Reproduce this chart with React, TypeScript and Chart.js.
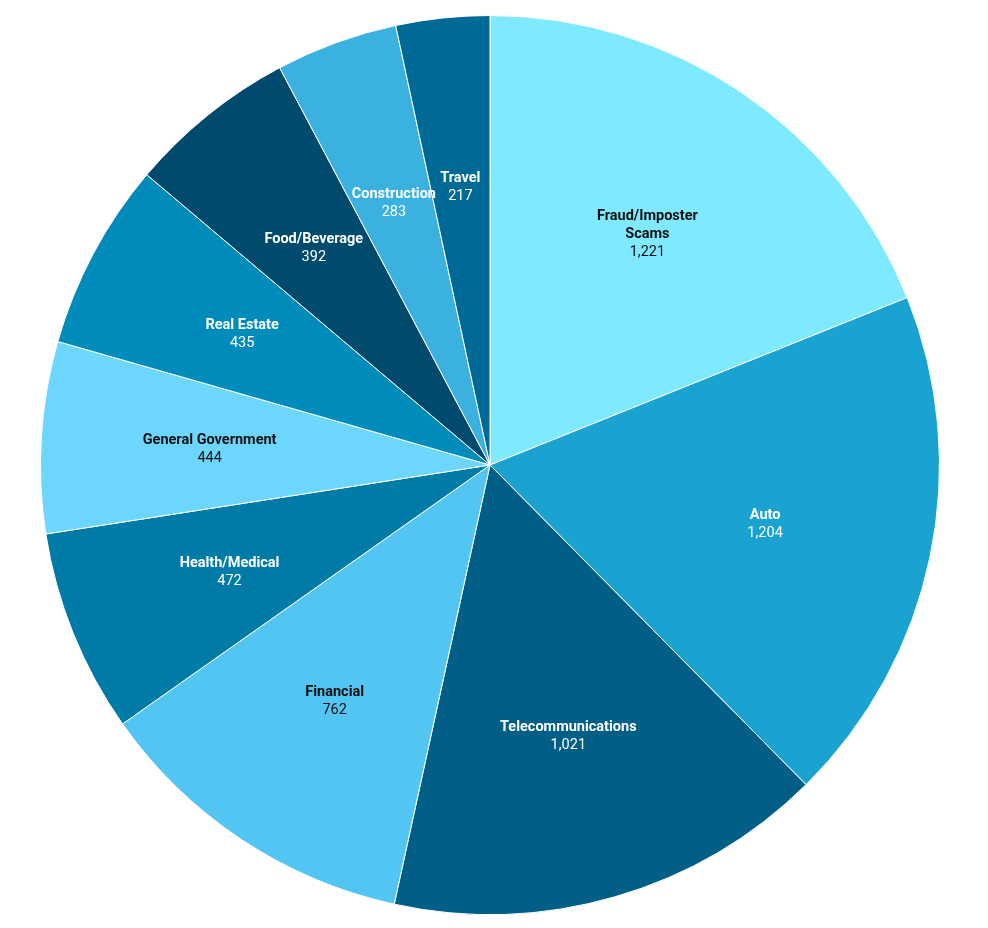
import React, { useEffect, useRef } from "react";
import { Chart, registerables } from "chart.js";

Chart.register(...registerables);

const categories: (string | string[])[] = [
  ["Fraud/Imposter", "Scams"],
  "Auto",
  "Telecommunications",
  "Financial",
  "Health/Medical",
  "General Government",
  "Real Estate",
  "Food/Beverage",
  "Construction",
  "Travel",
];
const values = [1221, 1204, 1021, 762, 472, 444, 435, 392, 283, 217];
const colors = [
  "#7fe9ff",
  "#1aa3d0",
  "#005e87",
  "#52c5f2",
  "#007ba8",
  "#6cd6ff",
  "#008cba",
  "#004a6e",
  "#3bb1e0",
  "#006a96",
];
const labelColors = [
  "#111111",
  "#ffffff",
  "#ffffff",
  "#111111",
  "#ffffff",
  "#111111",
  "#ffffff",
  "#ffffff",
  "#ffffff",
  "#ffffff",
];

const labelPlugin = {
  id: "sliceLabels",
  afterDatasetsDraw(chart: any) {
    const ctx = chart.ctx;
    const meta = chart.getDatasetMeta(0);
    const labels = chart.data.labels;
    const data = chart.data.datasets[0].data;
    ctx.save();
    ctx.textAlign = "center";
    ctx.textBaseline = "middle";
    meta.data.forEach((arc: any, i: number) => {
      const p = arc.getProps(["x", "y", "startAngle", "endAngle", "outerRadius"], true);
      const mid = (p.startAngle + p.endAngle) / 2;
      const r = p.outerRadius * 0.625;
      const cx = p.x + Math.cos(mid) * r;
      const cy = p.y + Math.sin(mid) * r + 2;
      const lab = labels[i];
      const lines: string[] = Array.isArray(lab) ? lab : [lab];
      const all = [...lines, Number(data[i]).toLocaleString("en-US")];
      const lh = 18;
      const top = cy - ((all.length - 1) * lh) / 2;
      ctx.fillStyle = labelColors[i];
      all.forEach((t, j) => {
        ctx.font = j < lines.length ? "bold 14.5px Roboto" : "14.5px Roboto";
        ctx.fillText(t, cx, top + j * lh);
      });
    });
    ctx.restore();
  },
};

export default function App() {
  const ref = useRef<HTMLCanvasElement>(null);
  useEffect(() => {
    if (!ref.current) return;
    const chart = new Chart(ref.current, {
      type: "pie",
      data: {
        labels: categories,
        datasets: [
          {
            data: values,
            backgroundColor: colors,
            borderColor: "#ffffff",
            borderWidth: 1,
          },
        ],
      },
      options: {
        responsive: false,
        animation: false,
        layout: { padding: { left: 40, right: 48, top: 15, bottom: 13 } },
        plugins: {
          legend: { display: false },
          tooltip: { enabled: false },
        },
      },
      plugins: [labelPlugin],
    });
    return () => chart.destroy();
  }, []);
  return (
    <div style={{ position: "absolute", left: 0, top: 0, width: 988, height: 928, background: "#fff" }}>
      <canvas ref={ref} width={988} height={928} style={{ width: 988, height: 928 }} />
    </div>
  );
}
